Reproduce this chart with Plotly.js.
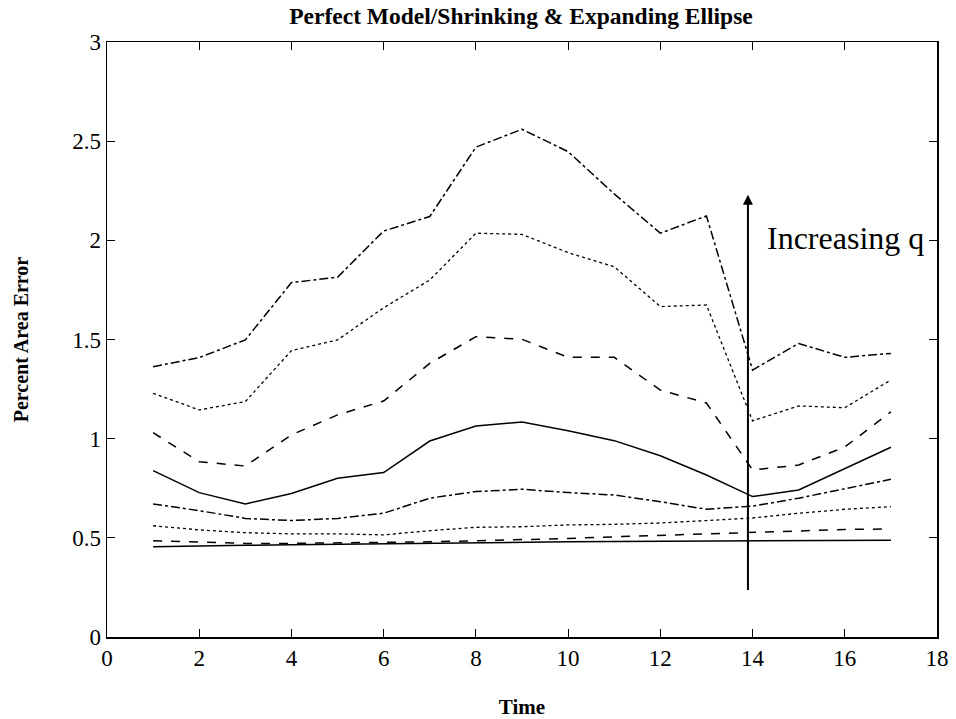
<!DOCTYPE html>
<html>
<head>
<meta charset="utf-8">
<script src="https://cdn.plot.ly/plotly-3.0.1.min.js"></script>
<style>html,body{margin:0;padding:0;background:#fff;}#chart{width:956px;height:719px;}</style>
</head>
<body>
<div id="chart"></div>
<script>
const time = [1,2,3,4,5,6,7,8,9,10,11,12,13,14,15,16,17];
const q1 = [0.455,0.460,0.462,0.465,0.468,0.470,0.472,0.475,0.478,0.480,0.482,0.483,0.485,0.486,0.487,0.488,0.488];
const q2 = [0.485,0.478,0.472,0.472,0.474,0.476,0.480,0.485,0.490,0.497,0.505,0.512,0.520,0.528,0.535,0.542,0.545];
const q3 = [0.561,0.540,0.526,0.520,0.520,0.515,0.536,0.553,0.556,0.565,0.568,0.575,0.587,0.600,0.624,0.644,0.657];
const q4 = [0.671,0.637,0.598,0.587,0.598,0.624,0.700,0.733,0.745,0.728,0.716,0.682,0.644,0.660,0.700,0.746,0.795];
const q5 = [0.839,0.728,0.671,0.724,0.800,0.829,0.988,1.064,1.084,1.040,0.990,0.914,0.817,0.708,0.741,0.850,0.957];
const q6 = [1.030,0.884,0.862,1.019,1.120,1.190,1.380,1.514,1.501,1.410,1.410,1.245,1.180,0.842,0.867,0.958,1.135];
const q7 = [1.229,1.145,1.187,1.444,1.498,1.660,1.800,2.036,2.030,1.938,1.867,1.666,1.674,1.090,1.165,1.156,1.296];
const q8 = [1.363,1.409,1.498,1.787,1.814,2.047,2.120,2.470,2.560,2.447,2.234,2.036,2.123,1.346,1.480,1.410,1.430];
const seriesList = [q1,q2,q3,q4,q5,q6,q7,q8];
const dashes = ['solid','dash','dot','dashdot','solid','dash','dot','dashdot'];

const arrowX = 13.9, arrowTop = 2.23, arrowBottom = 0.23;
const labelText = 'Increasing q';

const serif = 'Liberation Serif, DejaVu Serif, serif';

const traces = seriesList.map((ys, i) => ({
  x: time, y: ys, type: 'scatter', mode: 'lines',
  line: {color: '#000', width: dashes[i] === 'dot' ? 1.3 : 1.5, dash: dashes[i]},
  showlegend: false, hoverinfo: 'skip'
}));

const layout = {
  width: 956, height: 719,
  margin: {l: 107, r: 19, t: 42, b: 82},
  paper_bgcolor: '#fff', plot_bgcolor: '#fff',
  title: {text: '<b>Perfect Model/Shrinking &amp; Expanding Ellipse</b>', x: 0.545, xanchor: 'center', y: 0.978, yanchor: 'middle', font: {family: serif, size: 23.5, color: '#000'}},
  xaxis: {
    range: [0, 18], dtick: 2, tick0: 0, showgrid: false, zeroline: false,
    showline: true, mirror: 'ticks', linecolor: '#000', linewidth: 1.5,
    ticks: 'inside', ticklen: 8, tickcolor: '#000', tickwidth: 1,
    tickfont: {family: serif, size: 23, color: '#000'},
    title: {text: '<b>Time</b>', font: {family: serif, size: 21, color: '#000'}, standoff: 30}
  },
  yaxis: {
    range: [0, 3], dtick: 0.5, tick0: 0, showgrid: false, zeroline: false,
    showline: true, mirror: 'ticks', linecolor: '#000', linewidth: 1.5,
    ticks: 'inside', ticklen: 8, tickcolor: '#000', tickwidth: 1,
    tickfont: {family: serif, size: 23, color: '#000'},
    title: {text: '<b>Percent Area Error</b>', font: {family: serif, size: 20, color: '#000'}, standoff: 38}
  },
  annotations: [
    {x: arrowX, y: arrowTop, xref: 'x', yref: 'y', ax: arrowX, ay: arrowBottom, axref: 'x', ayref: 'y',
     showarrow: true, arrowhead: 2, arrowsize: 1, arrowwidth: 2, arrowcolor: '#000', text: ''},
    {x: 14.27, y: 2.01, xref: 'x', yref: 'y', xanchor: 'left', yanchor: 'middle', showarrow: false,
     text: labelText, font: {family: serif, size: 32, color: '#000'}}
  ]
};

Plotly.newPlot('chart', traces, layout, {displayModeBar: false, staticPlot: true});
</script>
</body>
</html>
